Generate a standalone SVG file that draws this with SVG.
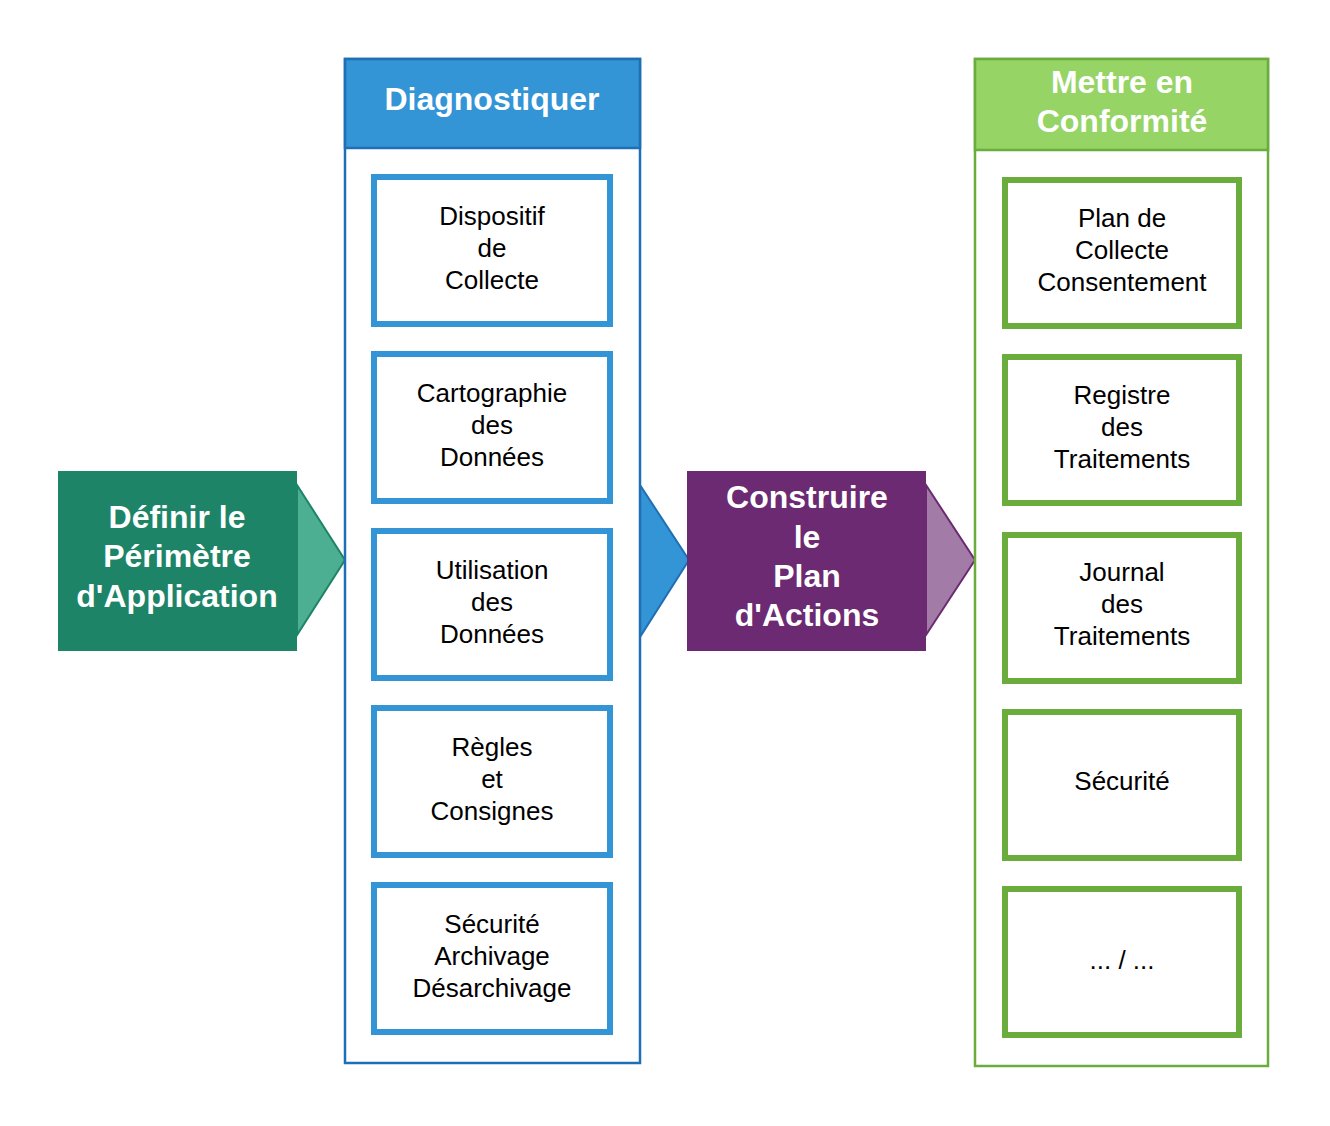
<svg xmlns="http://www.w3.org/2000/svg" width="1330" height="1126" viewBox="0 0 1330 1126">
<style>
.t{font-family:"Liberation Sans",Arial,sans-serif;text-anchor:middle}
.h{font-size:32px;font-weight:bold;fill:#ffffff}
.b{font-size:26px;fill:#000000}
.bbox{fill:#ffffff;stroke:#3394d6;stroke-width:6}
.gbox{fill:#ffffff;stroke:#6aad3d;stroke-width:6}
</style>
<rect width="1330" height="1126" fill="#ffffff"/>
<g id="connectors">
<polygon points="297,485 345,560 297,635" fill="#4daf92" stroke="#1d8468" stroke-width="2"/>
<polygon points="640,485 689,560 640,637" fill="#3394d6" stroke="#1f6fb5" stroke-width="2"/>
<polygon points="926,485 975,560 926,635" fill="#a27ba6" stroke="#6b2a71" stroke-width="2"/>
</g>
<g id="definir">
<rect x="58" y="471" width="239" height="180" fill="#1d8468"/>
<text class="t h" x="177" y="528">Définir le</text>
<text class="t h" x="177" y="567">Périmètre</text>
<text class="t h" x="177" y="607">d'Application</text>
</g>
<g id="diagnostiquer">
<rect x="345" y="59" width="295" height="1004" fill="#ffffff" stroke="#1f6fb5" stroke-width="2.5"/>
<rect x="345" y="59" width="295" height="89" fill="#3394d6" stroke="#1f6fb5" stroke-width="2.5"/>
<text class="t h" x="492" y="110">Diagnostiquer</text>
</g>
<g id="d1"><rect class="bbox" x="374" y="177" width="236" height="147"/>
<text class="t b" x="492" y="225">Dispositif</text><text class="t b" x="492" y="257">de</text><text class="t b" x="492" y="289">Collecte</text></g>
<g id="d2"><rect class="bbox" x="374" y="354" width="236" height="147"/>
<text class="t b" x="492" y="402">Cartographie</text><text class="t b" x="492" y="434">des</text><text class="t b" x="492" y="466">Données</text></g>
<g id="d3"><rect class="bbox" x="374" y="531" width="236" height="147"/>
<text class="t b" x="492" y="579">Utilisation</text><text class="t b" x="492" y="611">des</text><text class="t b" x="492" y="643">Données</text></g>
<g id="d4"><rect class="bbox" x="374" y="708" width="236" height="147"/>
<text class="t b" x="492" y="756">Règles</text><text class="t b" x="492" y="788">et</text><text class="t b" x="492" y="820">Consignes</text></g>
<g id="d5"><rect class="bbox" x="374" y="885" width="236" height="147"/>
<text class="t b" x="492" y="933">Sécurité</text><text class="t b" x="492" y="965">Archivage</text><text class="t b" x="492" y="997">Désarchivage</text></g>
<g id="construire">
<rect x="687" y="471" width="239" height="180" fill="#6b2a71"/>
<text class="t h" x="807" y="508">Construire</text>
<text class="t h" x="807" y="548">le</text>
<text class="t h" x="807" y="587">Plan</text>
<text class="t h" x="807" y="626">d'Actions</text>
</g>
<g id="conformite">
<rect x="975" y="59" width="293" height="1007" fill="#ffffff" stroke="#6aad3d" stroke-width="2.5"/>
<rect x="975" y="59" width="293" height="91" fill="#95d465" stroke="#6aad3d" stroke-width="2.5"/>
<text class="t h" x="1122" y="93">Mettre en</text>
<text class="t h" x="1122" y="132">Conformité</text>
</g>
<g id="c1"><rect class="gbox" x="1005" y="180" width="234" height="146"/>
<text class="t b" x="1122" y="227">Plan de</text><text class="t b" x="1122" y="259">Collecte</text><text class="t b" x="1122" y="291">Consentement</text></g>
<g id="c2"><rect class="gbox" x="1005" y="357" width="234" height="146"/>
<text class="t b" x="1122" y="404">Registre</text><text class="t b" x="1122" y="436">des</text><text class="t b" x="1122" y="468">Traitements</text></g>
<g id="c3"><rect class="gbox" x="1005" y="535" width="234" height="146"/>
<text class="t b" x="1122" y="581">Journal</text><text class="t b" x="1122" y="613">des</text><text class="t b" x="1122" y="645">Traitements</text></g>
<g id="c4"><rect class="gbox" x="1005" y="712" width="234" height="146"/>
<text class="t b" x="1122" y="790">Sécurité</text></g>
<g id="c5"><rect class="gbox" x="1005" y="889" width="234" height="146"/>
<text class="t b" x="1122" y="969">... / ...</text></g>
</svg>
